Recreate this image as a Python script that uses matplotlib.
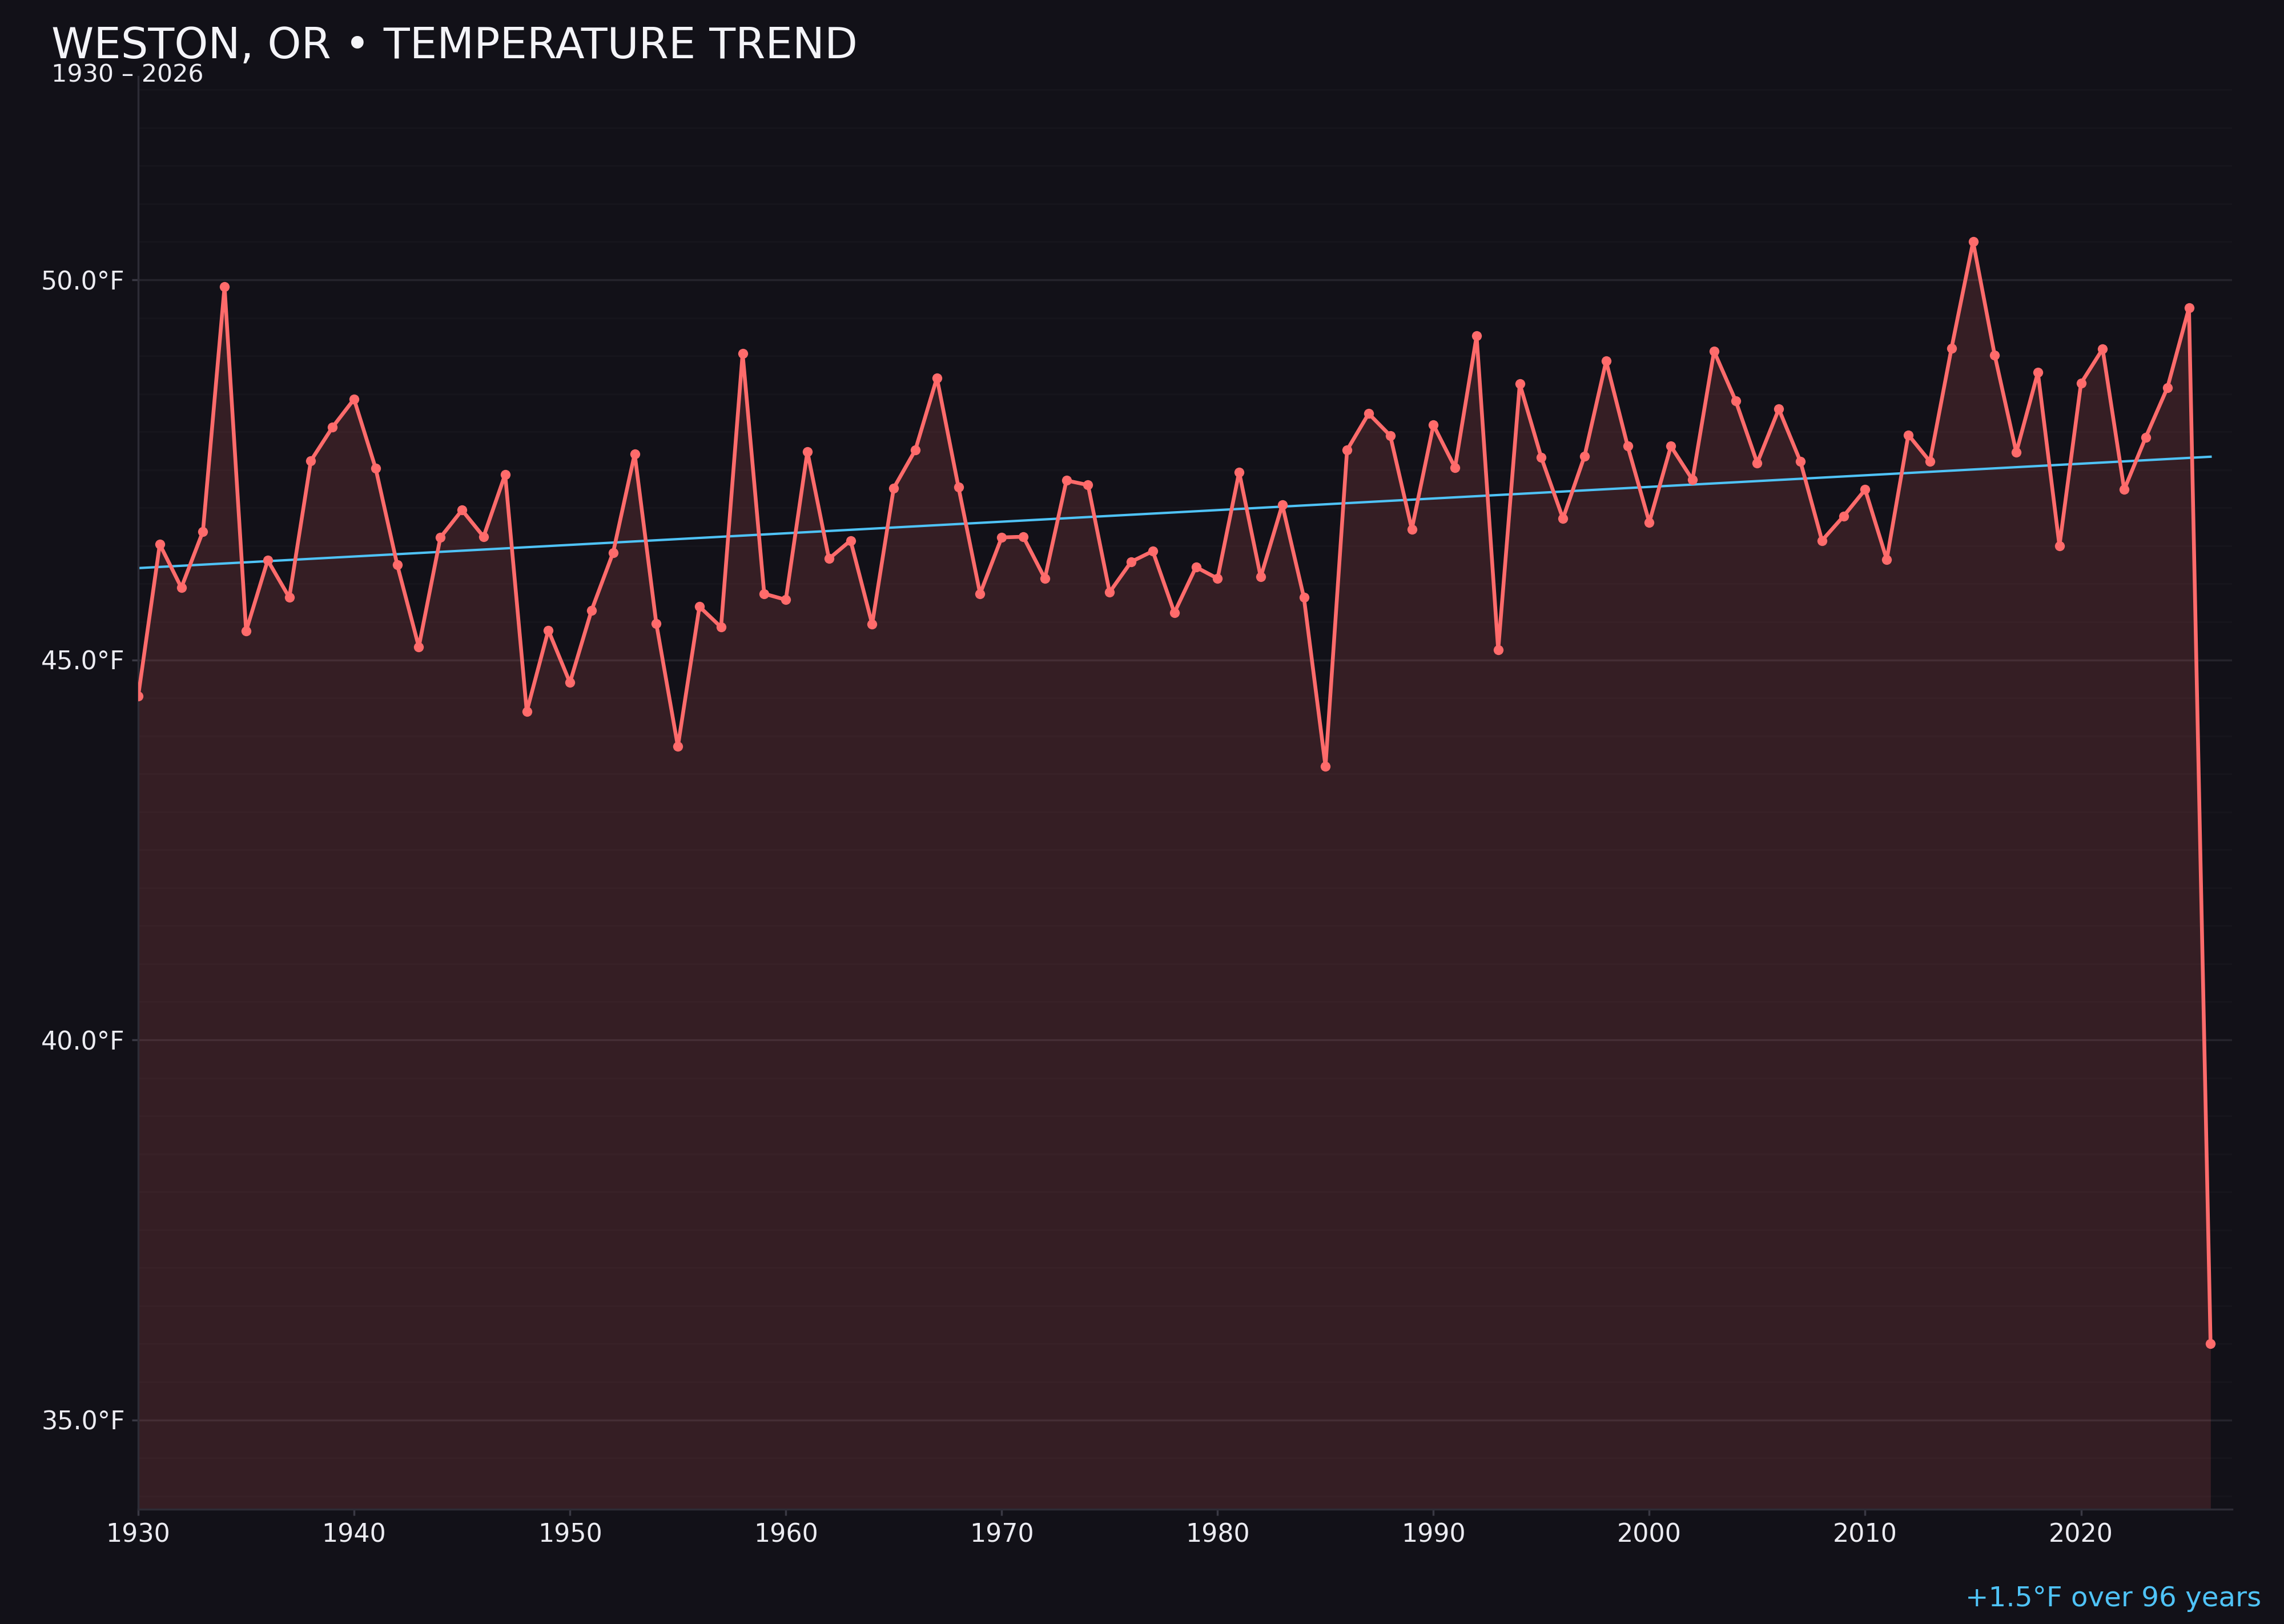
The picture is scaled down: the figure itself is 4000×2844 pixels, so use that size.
import numpy as np
import matplotlib
matplotlib.use("Agg")
import matplotlib.pyplot as plt
from matplotlib.ticker import MultipleLocator, FixedLocator

# ---- data ----
years = list(range(1930, 2027))
temps = [
    44.52, 46.52, 45.95, 46.69, 49.91, 45.38, 46.31, 45.82, 47.62, 48.06,  # 1930s
    48.43, 47.52, 46.25, 45.17, 46.61, 46.97, 46.62, 47.44, 44.32, 45.39,  # 1940s
    44.70, 45.65, 46.41, 47.71, 45.48, 43.86, 45.70, 45.43, 49.03, 45.87,  # 1950s
    45.79, 47.74, 46.33, 46.57, 45.47, 47.26, 47.76, 48.71, 47.27, 45.87,  # 1960s
    46.61, 46.62, 46.07, 47.36, 47.30, 45.89, 46.29, 46.43, 45.62, 46.22,  # 1970s
    46.07, 47.47, 46.09, 47.04, 45.82, 43.60, 47.76, 48.24, 47.95, 46.72,  # 1980s
    48.09, 47.53, 49.26, 45.13, 48.63, 47.66, 46.86, 47.68, 48.93, 47.81,  # 1990s
    46.81, 47.81, 47.37, 49.06, 48.41, 47.59, 48.30, 47.61, 46.57, 46.89,  # 2000s
    47.24, 46.32, 47.96, 47.61, 49.10, 50.50, 49.01, 47.73, 48.78, 46.50,  # 2010s
    48.64, 49.09, 47.24, 47.93, 48.58, 49.63, 36.00,                        # 2020s
]
x_ticks = [1930, 1940, 1950, 1960, 1970, 1980, 1990, 2000, 2010, 2020]
y_ticks = [35.0, 40.0, 45.0, 50.0]
title = "WESTON, OR \u2022 TEMPERATURE TREND"
subtitle = "1930 \u2013 2026"
trend_label = "+1.5\u00b0F over 96 years"

BG = "#121118"
RED = "#ff6b6b"
BLUE = "#4fc3f7"
TXT = "#ececf2"

x = np.array(years, dtype=float)
y = np.array(temps, dtype=float)

fig = plt.figure(figsize=(16, 11.376), dpi=250, facecolor=BG)
ax = fig.add_axes([0.0605, 0.0707, 0.9168, 0.8822])
ax.set_facecolor(BG)
ax.set_axisbelow(True)

rng = y.max() - y.min()
ymin = y.min() - rng * 0.15
ymax = y.max() + rng * 0.15
ax.set_ylim(ymin, ymax)
ax.set_xlim(1930, 2027)

# grid
ax.yaxis.set_major_locator(FixedLocator(y_ticks))
ax.yaxis.set_minor_locator(MultipleLocator(0.5))
ax.grid(axis="y", which="minor", color="#16151c", linewidth=0.9)
ax.grid(axis="y", which="major", color="#25242c", linewidth=1.0)
ax.grid(axis="x", visible=False)
ax.tick_params(axis="y", which="minor", length=0)

ax.fill_between(x, y, ymin, color=RED, alpha=0.15, linewidth=0, zorder=1)
ax.plot(x, y, color=RED, linewidth=1.9, marker="o", markersize=5,
        markeredgewidth=0, zorder=3)

coef = np.polyfit(x, y, 1)
ax.plot(x, np.polyval(coef, x), color=BLUE, linewidth=1.2, zorder=2)

ax.set_xticks(x_ticks)
ax.set_xticklabels([str(t) for t in x_ticks])
ax.set_yticklabels([f"{t:.1f}\u00b0F" for t in y_ticks])
ax.tick_params(axis="both", which="major", colors="#3a3944", labelcolor=TXT,
               labelsize=12.8, length=3.2, width=1.0)

for side in ("top", "right"):
    ax.spines[side].set_visible(False)
for side in ("left", "bottom"):
    ax.spines[side].set_color("#2d2c36")
    ax.spines[side].set_linewidth(1.0)

fig.text(0.0225, 0.9641, title, color="#f4f4f8", fontsize=21.65, ha="left",
         va="baseline")
fig.text(0.0225, 0.9496, subtitle, color=TXT, fontsize=12.3, ha="left",
         va="baseline")
fig.text(0.990, 0.0109, trend_label, color=BLUE, fontsize=13.95, ha="right",
         va="baseline")

fig.savefig("out.png", dpi=250, facecolor=BG)
